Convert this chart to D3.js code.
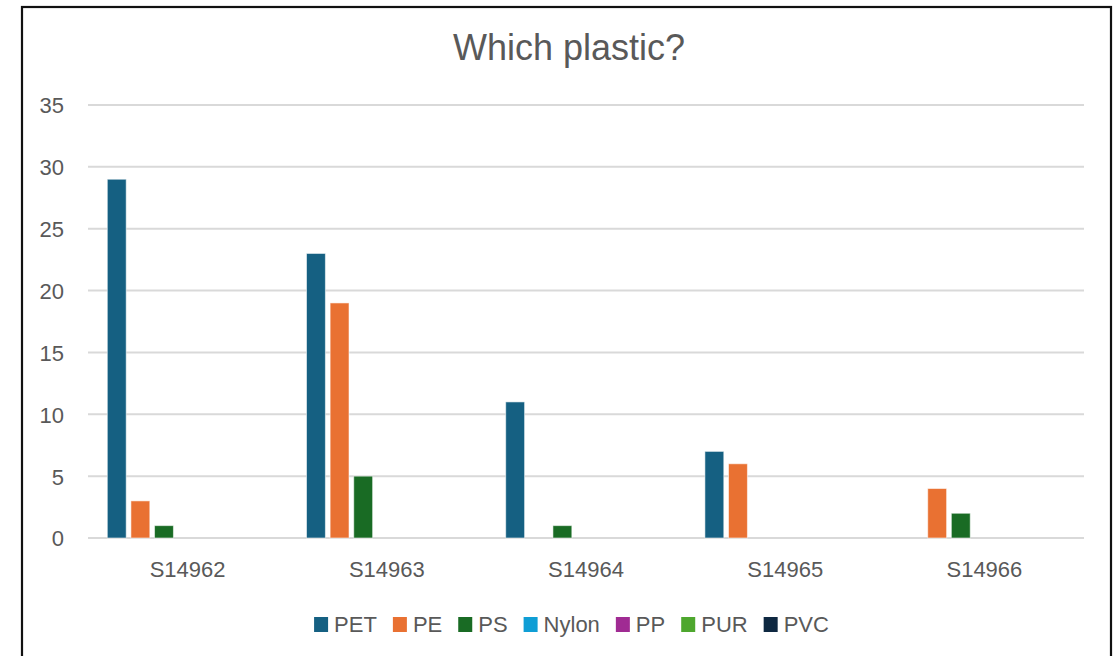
<!DOCTYPE html>
<html>
<head>
<meta charset="utf-8">
<script src="https://cdn.jsdelivr.net/npm/d3@7"></script>
<style>
  html, body { margin: 0; padding: 0; background: #fff; }
  svg { display: block; }
  text { font-family: "Liberation Sans", Arial, sans-serif; fill: #595959; }
</style>
</head>
<body>
<svg id="chart" width="1118" height="656"></svg>
<script>
// Samples on the category axis
const samples = ["S14962", "S14963", "S14964", "S14965", "S14966"];
// Plastic types, one series each
const plastics = ["PET", "PE", "PS", "Nylon", "PP", "PUR", "PVC"];
const colors = ["#156082", "#E97132", "#196B24", "#0F9ED5", "#A02B93", "#4EA72E", "#0E2841"];
// Counts per sample, one array per plastic type
const PET   = [29, 23, 11, 7, 0];
const PE    = [3, 19, 0, 6, 4];
const PS    = [1, 5, 1, 0, 2];
const Nylon = [0, 0, 0, 0, 0];
const PP    = [0, 0, 0, 0, 0];
const PUR   = [0, 0, 0, 0, 0];
const PVC   = [0, 0, 0, 0, 0];
const yTicks = [0, 5, 10, 15, 20, 25, 30, 35];
const title = "Which plastic?";

const seriesValues = [PET, PE, PS, Nylon, PP, PUR, PVC];
const rows = samples.map((s, i) => ({
  sample: s,
  values: plastics.map((p, j) => ({ key: p, value: seriesValues[j][i], color: colors[j] }))
}));

const svg = d3.select("#chart");

// Outer frame
svg.append("rect")
  .attr("x", 22).attr("y", 7)
  .attr("width", 1089).attr("height", 670)
  .attr("fill", "#fff")
  .attr("stroke", "#111").attr("stroke-width", 2.2);

const plot = { left: 88, right: 1084, top: 105, bottom: 538 };

const x0 = d3.scaleBand().domain(samples).range([plot.left, plot.right]).padding(0);
const groupPad = 19.3;
const x1 = d3.scaleBand().domain(plastics)
  .range([groupPad, x0.bandwidth() - groupPad])
  .paddingInner(0.2).paddingOuter(0);
const y = d3.scaleLinear().domain([0, 35]).range([plot.bottom, plot.top]);

// Title
svg.append("text")
  .attr("x", 569).attr("y", 60)
  .attr("text-anchor", "middle")
  .style("font-size", "36px")
  .text(title);

// Horizontal gridlines
svg.append("g").selectAll("line")
  .data(yTicks)
  .join("line")
  .attr("x1", plot.left).attr("x2", plot.right)
  .attr("y1", d => y(d)).attr("y2", d => y(d))
  .attr("stroke", "#d9d9d9").attr("stroke-width", 2);

// Y axis labels
const yAxis = d3.axisLeft(y).tickValues(yTicks).tickSize(0).tickPadding(0);
const yg = svg.append("g").attr("transform", `translate(${plot.left - 24},0)`).call(yAxis);
yg.select(".domain").remove();
yg.selectAll("text")
  .attr("dy", "0.36em")
  .style("font-size", "22px")
  .style("font-family", "\"Liberation Sans\", Arial, sans-serif")
  .attr("fill", "#595959");

// X axis labels
const xAxis = d3.axisBottom(x0).tickSize(0).tickPadding(0);
const xg = svg.append("g").attr("transform", `translate(0,${plot.bottom})`).call(xAxis);
xg.select(".domain").remove();
xg.selectAll("text")
  .attr("y", 39).attr("dy", 0)
  .style("font-size", "22px")
  .style("font-family", "\"Liberation Sans\", Arial, sans-serif")
  .attr("fill", "#595959");

// Bars
const groups = svg.append("g").selectAll("g")
  .data(rows)
  .join("g")
  .attr("transform", d => `translate(${x0(d.sample)},0)`);

groups.selectAll("rect")
  .data(d => d.values.filter(v => v.value > 0))
  .join("rect")
  .attr("x", d => x1(d.key))
  .attr("width", x1.bandwidth())
  .attr("y", d => y(d.value))
  .attr("height", d => y(0) - y(d.value))
  .attr("fill", d => d.color)
  .attr("stroke", "rgba(255,255,255,0.55)")
  .attr("stroke-width", 1);

// Legend
const legend = svg.append("g");
const items = legend.selectAll("g")
  .data(plastics.map((p, i) => ({ key: p, color: colors[i] })))
  .join("g");
items.append("rect")
  .attr("width", 14).attr("height", 15)
  .attr("y", 617)
  .attr("fill", d => d.color);
items.append("text")
  .attr("x", 20).attr("y", 632)
  .style("font-size", "22px")
  .text(d => d.key);

const itemGap = 16;
let cursor = 0;
const positions = [];
items.each(function () {
  const w = d3.select(this).select("text").node().getComputedTextLength();
  positions.push(cursor);
  cursor += 20 + w + itemGap;
});
const totalWidth = cursor - itemGap;
const legendStart = 571.5 - totalWidth / 2;
items.attr("transform", (d, i) => `translate(${legendStart + positions[i]},0)`);
</script>
</body>
</html>
